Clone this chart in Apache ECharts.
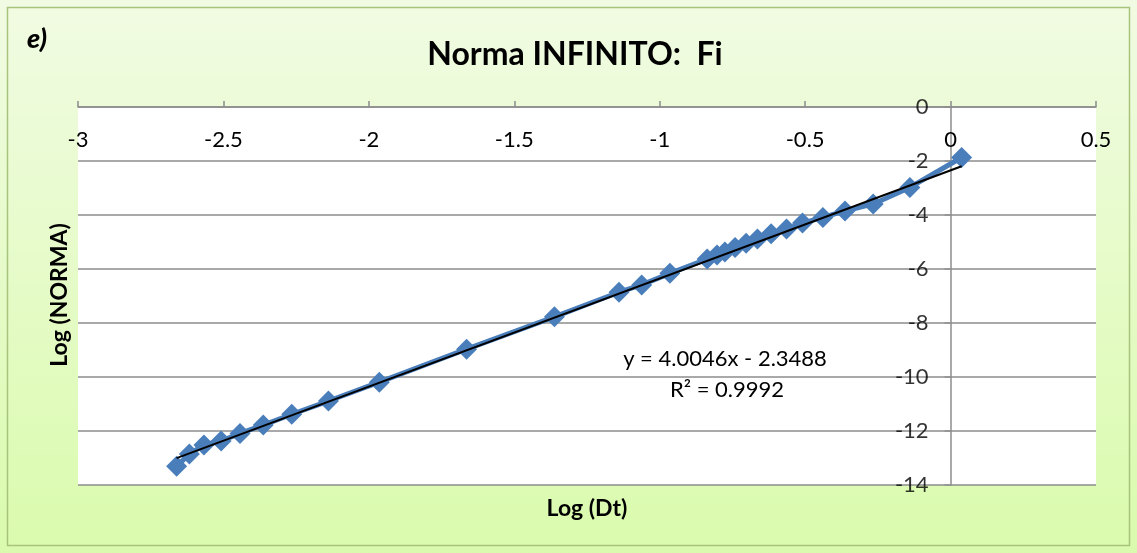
<!DOCTYPE html>
<html>
<head>
<meta charset="utf-8">
<script src="https://cdn.jsdelivr.net/npm/echarts@6/dist/echarts.min.js"></script>
<style>
html,body{margin:0;padding:0;background:#fff;}
#c{width:1137px;height:553px;}
</style>
</head>
<body>
<div id="c"></div>
<script>
const logDt = [-2.661,-2.617,-2.567,-2.508,-2.443,-2.363,-2.265,-2.139,-1.964,-1.664,-1.362,-1.140,-1.062,-0.965,-0.837,-0.803,-0.776,-0.741,-0.703,-0.664,-0.617,-0.564,-0.509,-0.439,-0.363,-0.266,-0.140,0.038];
const logNorma = [-13.31,-12.85,-12.52,-12.37,-12.09,-11.78,-11.38,-10.89,-10.19,-8.97,-7.77,-6.86,-6.59,-6.16,-5.63,-5.48,-5.37,-5.20,-5.05,-4.89,-4.69,-4.52,-4.30,-4.09,-3.85,-3.59,-2.98,-1.87];
const trendSlope = 4.0046;
const trendIntercept = -2.3488;
const trendR2 = '0.9992';
const xTicks = [-3,-2.5,-2,-1.5,-1,-0.5,0,0.5];
const yTicks = [0,-2,-4,-6,-8,-10,-12,-14];

const FONT = 'Lato, "Open Sans", sans-serif';
const chart = echarts.init(document.getElementById('c'), null, {renderer:'canvas'});
const pts = logDt.map((x,i)=>[x, logNorma[i]]);
const x0 = logDt[0], x1 = logDt[logDt.length-1];
const trend = [[x0, trendSlope*x0+trendIntercept],[x1, trendSlope*x1+trendIntercept]];
const grey = '#8c8c8c';

chart.setOption({
  animation:false,
  tooltip:{show:false},
  backgroundColor: new echarts.graphic.LinearGradient(0,0,0,1,[{offset:0,color:'#f1fbe3'},{offset:1,color:'#dafbad'}]),
  grid:{left:78, top:107, right:41, bottom:68, containLabel:false},
  xAxis:{
    type:'value', position:'top', min:xTicks[0], max:xTicks[xTicks.length-1], interval:0.5,
    axisLine:{onZero:true, lineStyle:{color:grey, width:1.5}},
    axisTick:{show:true, inside:false, length:6, lineStyle:{color:grey, width:1.5}},
    axisLabel:{inside:true, margin:22, color:'#000', fontSize:22, fontFamily:FONT},
    splitLine:{show:false}
  },
  yAxis:{
    type:'value', min:yTicks[yTicks.length-1], max:yTicks[0], interval:2,
    axisLine:{onZero:true, lineStyle:{color:grey, width:1.5}},
    axisTick:{show:false},
    axisLabel:{show:false},
    splitLine:{show:true, lineStyle:{color:grey, width:1.5}}
  },
  series:[
    {type:'scatter', data:yTicks.map(v=>[0,v]), symbol:'rect', symbolSize:[6,1.5], symbolOffset:[-3,0],
     itemStyle:{color:grey}, silent:true, clip:false, z:1,
     label:{show:true, position:'left', distance:16, color:'#000', fontSize:22, fontFamily:FONT,
       formatter:p=>String(p.value[1])}},
    {type:'line', data:pts, symbol:'diamond', symbolSize:21, showSymbol:true,
     lineStyle:{color:'#4a7ebb', width:5}, itemStyle:{color:'#4a7ebb'}, z:2},
    {type:'line', data:trend, symbol:'none', lineStyle:{color:'#000', width:2}, z:3}
  ],
  graphic:[
    {type:'rect', shape:{x:7.5,y:7.5,width:1122,height:538},
     style:{fill:'none', stroke:'#a8c47c', lineWidth:1.5}, z:-1, silent:true},
    {type:'rect', shape:{x:78,y:107,width:1018,height:378}, style:{fill:'#fff'}, z:-10, silent:true},
    {type:'text', x:27, y:39, style:{text:'e)', font:'italic 900 27px '+FONT, fill:'#000', align:'left', verticalAlign:'middle'}},
    {type:'text', x:575, y:55, style:{text:'Norma INFINITO:  Fi', font:'bold 32px '+FONT, fill:'#000', align:'center', verticalAlign:'middle'}},
    {type:'text', x:587, y:509, style:{text:'Log (Dt)', font:'bold 23px '+FONT, fill:'#000', align:'center', verticalAlign:'middle'}},
    {type:'text', x:60, y:295, rotation:Math.PI/2, style:{text:'Log (NORMA)', font:'bold 23px '+FONT, fill:'#000', align:'center', verticalAlign:'middle'}},
    {type:'text', x:725, y:359, style:{text:'y = '+trendSlope+'x - '+Math.abs(trendIntercept), font:'22px '+FONT, fill:'#000', align:'center', verticalAlign:'middle'}},
    {type:'text', x:727, y:390, style:{text:'R² = '+trendR2, font:'22px '+FONT, fill:'#000', align:'center', verticalAlign:'middle'}}
  ]
});
</script>
</body>
</html>
